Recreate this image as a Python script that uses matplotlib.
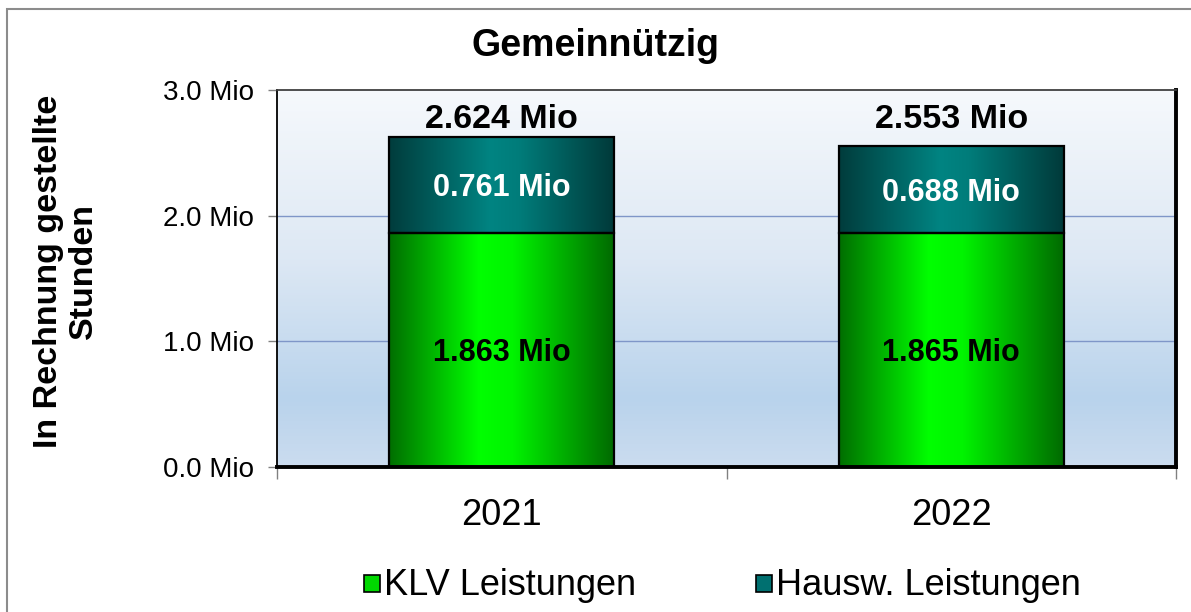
import numpy as np
import matplotlib
matplotlib.use("Agg")
import matplotlib.pyplot as plt
from matplotlib.colors import LinearSegmentedColormap
from matplotlib.patches import Rectangle

# ---- data ----
years = ["2021", "2022"]
klv = [1.863, 1.865]
hausw = [0.761, 0.688]
y_ticks = [0.0, 1.0, 2.0, 3.0]
y_tick_labels = ["0.0 Mio", "1.0 Mio", "2.0 Mio", "3.0 Mio"]
series_names = ["KLV Leistungen", "Hausw. Leistungen"]
title = "Gemeinnützig"
ylabel = "In Rechnung gestellte\nStunden"

plt.rcParams["font.family"] = ["Liberation Sans", "DejaVu Sans"]

W, H = 1191, 612
fig = plt.figure(figsize=(W / 100, H / 100), dpi=100)
fig.patch.set_facecolor("white")

def px(x, y):
    return x / W, (H - y) / H

# outer border (left/top visible)
fig.add_artist(Rectangle((7 / W, -0.05), 1.2, (H - 9) / H + 0.05,
                         transform=fig.transFigure, fill=False,
                         edgecolor="#8c8c8c", lw=1.5))

ax = fig.add_axes([277 / W, 145 / H, 899 / W, 377 / H])
x = np.arange(len(years))

# background gradient (top -> bottom)
bg = LinearSegmentedColormap.from_list(
    "bg", [(0.0, "#f6f9fc"), (0.45, "#dde8f4"), (0.82, "#b9d3ec"), (1.0, "#cbdcef")])
grad = np.linspace(1, 0, 256).reshape(-1, 1)
ax.imshow(grad, cmap=bg, vmin=0, vmax=1, extent=[-0.5, len(years) - 0.5, 0, 3],
          aspect="auto", zorder=0, origin="lower")

# gridlines
for yv in y_ticks[1:-1]:
    ax.axhline(yv, color="#7f96c8", lw=1.0, zorder=1)

green_cm = LinearSegmentedColormap.from_list(
    "g", [(0, "#006e00"), (0.40, "#00ff00"), (0.55, "#00f400"), (1, "#006a00")])
teal_cm = LinearSegmentedColormap.from_list(
    "t", [(0, "#003c3c"), (0.45, "#008482"), (0.58, "#007c7a"), (1, "#003a3a")])

width = 0.5
bars1 = ax.bar(x, klv, width, facecolor="none", edgecolor="black", lw=1.6, zorder=3)
bars2 = ax.bar(x, hausw, width, bottom=klv, facecolor="none", edgecolor="black", lw=1.6, zorder=3)
hgrad = np.linspace(0, 1, 256).reshape(1, -1)
for bars, cm in ((bars1, green_cm), (bars2, teal_cm)):
    for b in bars:
        x0, y0, w, h = b.get_x(), b.get_y(), b.get_width(), b.get_height()
        im = ax.imshow(hgrad, cmap=cm, extent=[x0, x0 + w, y0, y0 + h],
                       aspect="auto", zorder=2)
        im.set_clip_path(b)
ax.set_xlim(-0.5, len(years) - 0.5)
ax.set_ylim(0, 3)

# labels
for i in range(len(years)):
    ax.annotate(f"{klv[i]:.3f} Mio", (x[i], klv[i] / 2), xytext=(0, -8),
                textcoords="offset points", ha="center", va="baseline",
                fontsize=22, fontweight="bold", color="black", zorder=5)
    ax.annotate(f"{hausw[i]:.3f} Mio", (x[i], klv[i] + hausw[i] / 2), xytext=(0, -8),
                textcoords="offset points", ha="center", va="baseline",
                fontsize=22, fontweight="bold", color="white", zorder=5)
    tot = klv[i] + hausw[i]
    ax.text(x[i], 2.70, f"{tot:.3f} Mio", ha="center", va="baseline",
            fontsize=24.5, fontweight="bold", color="black", zorder=5)

# axes styling
for s in ax.spines.values():
    s.set_color("black")
    s.set_linewidth(1.3)
    s.set_zorder(6)
ax.spines["right"].set_linewidth(2.8)
ax.spines["bottom"].set_linewidth(2.8)
ax.spines["top"].set_color("#404040")

ax.set_yticks(y_ticks)
ax.set_yticklabels(y_tick_labels, fontsize=20)
ax.tick_params(axis="y", direction="out", length=6.5, width=1, color="#808080", pad=10)

ax.set_xticks(x)
ax.set_xticklabels(years, fontsize=26)
ax.tick_params(axis="x", which="major", length=0, pad=22)
ax.set_xticks(np.arange(-0.5, len(years)), minor=True)
ax.tick_params(axis="x", which="minor", direction="out", length=8.6, width=1, color="#808080")

# title and y label
fig.text(*px(595.5, 56), title, ha="center", va="baseline", fontsize=27, fontweight="bold")
fig.text(*px(66, 271), ylabel, ha="center", va="center", rotation=90,
         fontsize=24.5, fontweight="bold", linespacing=1.15, multialignment="center")

# legend
leg_items = [(364, "#00d800", series_names[0]), (756, "#007070", series_names[1])]
for lx, col, name in leg_items:
    fig.add_artist(Rectangle(px(lx, 592), 16 / W, 17 / H, transform=fig.transFigure,
                             facecolor=col, edgecolor="black", lw=1.2))
    fig.text(*px(lx + 20, 595), name, ha="left", va="baseline", fontsize=26)

fig.savefig("out.png", dpi=100, facecolor="white")
